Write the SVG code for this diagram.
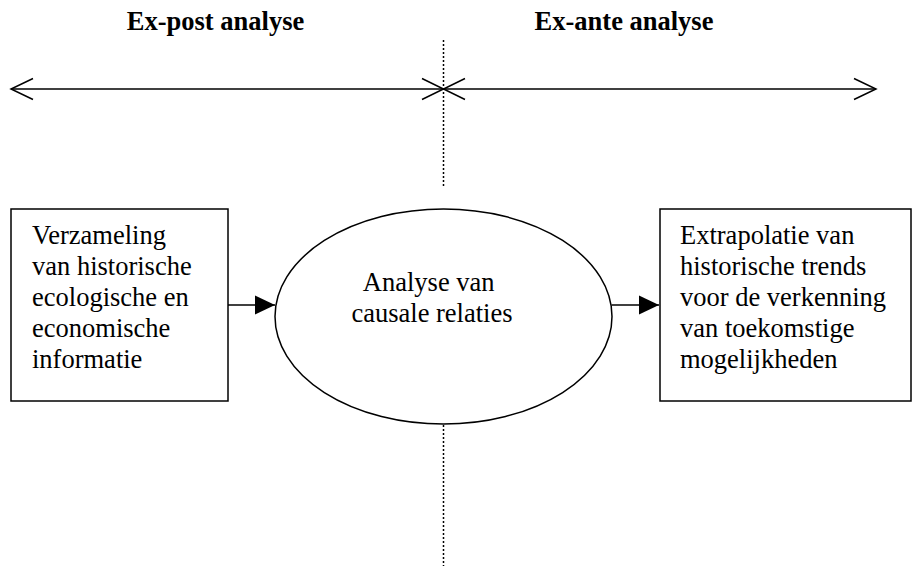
<svg xmlns="http://www.w3.org/2000/svg" width="913" height="568" viewBox="0 0 913 568">
  <defs>
    <style>
      .txt { font-family: "Liberation Serif", "Times New Roman", serif; font-size: 26.5px; fill: #000; }
      .hdr { font-weight: bold; text-anchor: middle; }
      .shape { fill: #fff; stroke: #000; stroke-width: 1.5; }
      .line { fill: none; stroke: #000; stroke-width: 1.5; }
      .dots { fill: none; stroke: #000; stroke-width: 1.5; stroke-dasharray: 2 2; }
    </style>
    <marker id="solid-head" markerWidth="20" markerHeight="20" refX="20" refY="10" orient="auto" markerUnits="userSpaceOnUse">
      <path d="M0,0.5 L20,10 L0,19.5 Z" fill="#000"/>
    </marker>
  </defs>
  <rect width="913" height="568" fill="#fff"/>

  <!-- headings -->
  <text class="txt hdr" x="215.5" y="30">Ex-post analyse</text>
  <text class="txt hdr" x="624" y="30">Ex-ante analyse</text>

  <!-- time axis and dividing line -->
  <g id="timeline">
    <line class="dots" x1="443.5" y1="40" x2="443.5" y2="186"/>
    <line class="dots" x1="443.5" y1="425" x2="443.5" y2="566"/>
    <line class="line" x1="11" y1="89" x2="876" y2="89"/>
    <!-- open arrowheads: both ends and the meeting point in the middle -->
    <polyline class="line" points="33,78.5 11,89 33,99.5"/>
    <polyline class="line" points="854,78.5 876,89 854,99.5"/>
    <polyline class="line" points="422,78.5 443.5,89 422,99.5"/>
    <polyline class="line" points="465,78.5 443.5,89 465,99.5"/>
  </g>

  <g id="node-collect">
    <rect class="shape" x="11" y="209" width="217" height="192"/>
    <text class="txt" x="32">
      <tspan x="32" y="244">Verzameling</tspan>
      <tspan x="32" y="275">van historische</tspan>
      <tspan x="32" y="306">ecologische en</tspan>
      <tspan x="32" y="337">economische</tspan>
      <tspan x="32" y="368">informatie</tspan>
    </text>
  </g>

  <g id="node-analyse">
    <ellipse class="shape" cx="443.5" cy="316.5" rx="168.5" ry="107.5"/>
    <text class="txt" text-anchor="middle">
      <tspan x="432" y="291">Analyse van</tspan>
      <tspan x="432" y="322">causale relaties</tspan>
    </text>
  </g>

  <g id="node-extrapolate">
    <rect class="shape" x="660" y="209" width="251" height="192"/>
    <text class="txt">
      <tspan x="680" y="244">Extrapolatie van</tspan>
      <tspan x="680" y="275">historische trends</tspan>
      <tspan x="680" y="306">voor de verkenning</tspan>
      <tspan x="680" y="337">van toekomstige</tspan>
      <tspan x="680" y="368">mogelijkheden</tspan>
    </text>
  </g>

  <g id="connectors">
    <line class="line" x1="228" y1="305" x2="275" y2="305" marker-end="url(#solid-head)"/>
    <line class="line" x1="611.5" y1="305" x2="659" y2="305" marker-end="url(#solid-head)"/>
  </g>
</svg>
